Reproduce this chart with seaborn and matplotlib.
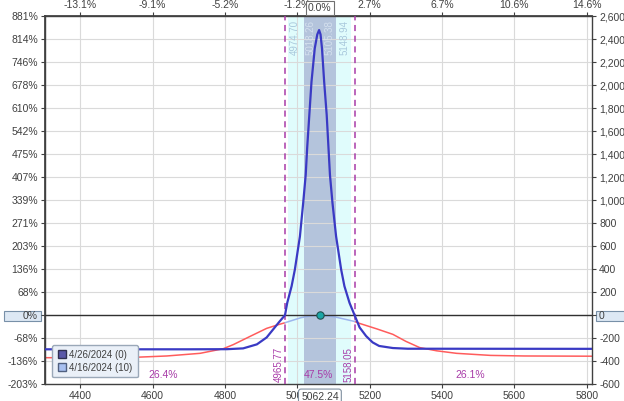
import matplotlib
matplotlib.use("Agg")
import matplotlib.pyplot as plt
from matplotlib.lines import Line2D
from matplotlib.patches import Rectangle
import numpy as np
import seaborn as sns

# values
price = 5062.24
breakevens = [4965.77, 5158.05]
outer_band = [4974.70, 5148.94]
inner_band = [5018.26, 5105.38]
zone_pcts = ["26.4%", "47.5%", "26.1%"]
zone_x = [4629, 5057, 5477]

x_ticks = [4400, 4600, 4800, 5000, 5200, 5400, 5600, 5800]
top_labels = ["-13.1%", "-9.1%", "-5.2%", "-1.2%", "2.7%", "6.7%", "10.6%", "14.6%"]
y_ticks = list(range(-600, 2601, 200))
left_labels = ["-203%", "-136%", "-68%", "0%", "68%", "136%", "203%", "271%", "339%",
               "407%", "475%", "542%", "610%", "678%", "746%", "814%", "881%"]

# expiration curve 4/26/2024
exp_x = [4303, 4700, 4805, 4850, 4888, 4915, 4933, 4950, 4965.77, 4972, 4984, 4993,
         5007, 5016, 5023, 5027, 5033, 5039, 5048, 5055, 5060, 5064, 5068, 5074,
         5081, 5086, 5090, 5097, 5107, 5121, 5130, 5144, 5158.05, 5172, 5190, 5208,
         5226, 5264, 5305, 5815]
exp_y = [-297, -297, -296, -289, -254, -194, -124, -58, 0, 108, 252, 396,
         685, 975, 1220, 1452, 1741, 2029, 2319, 2440, 2478, 2440, 2319, 2029,
         1741, 1452, 1220, 975, 685, 396, 252, 108, 0, -107, -182, -237,
         -268, -286, -292, -293]

# T+10 curve 4/16/2024
now_x = [4303, 4455, 4547, 4639, 4731, 4795, 4823, 4869, 4915, 4945, 4965.77,
         5010, 5035, 5060, 5085, 5110, 5158.05, 5172, 5220, 5264, 5300, 5338,
         5385, 5440, 5534, 5627, 5815]
now_y = [-370, -370, -367, -355, -332, -292, -256, -185, -115, -85, -66,
         -22, -8, -2, -8, -20, -55, -72, -120, -167, -228, -282,
         -310, -332, -350, -355, -357]

sns.set_theme(style="whitegrid")
plt.rcParams['font.family'] = ['Liberation Sans', 'DejaVu Sans']

fig = plt.figure(figsize=(6.24, 4.01), dpi=100)
ax = fig.add_axes([0.072, 0.042, 0.877, 0.918])

blue = "#3a3ac4"
red = "#ff5c5c"
magenta = "#a83ca8"

ax.axvspan(*outer_band, color="#e0fcfc", zorder=0.2, lw=0)
ax.axvspan(*inner_band, color="#b4c4dc", zorder=0.25, lw=0)

now_x = np.array(now_x)
now_y = np.array(now_y)
left = now_x <= breakevens[0]
right = now_x >= breakevens[1]
mid = ~left & ~right | (now_x == breakevens[0]) | (now_x == breakevens[1])
sns.lineplot(x=now_x[left], y=now_y[left], ax=ax, color=red, lw=1.1, estimator=None, sort=False)
sns.lineplot(x=now_x[right], y=now_y[right], ax=ax, color=red, lw=1.1, estimator=None, sort=False)
sns.lineplot(x=now_x[mid], y=now_y[mid], ax=ax, color="#9cb6ee", lw=1.1, estimator=None, sort=False)
sns.lineplot(x=exp_x, y=exp_y, ax=ax, color=blue, lw=1.6, estimator=None, sort=False, zorder=4)

ax.axhline(0, color="#303030", lw=1, zorder=3)
for be in breakevens:
    ax.axvline(be, color=magenta, ls=(0, (4, 3)), lw=1.1, zorder=3)

ax.scatter([price], [0], s=28, color="#1aa6a6", edgecolor="#1f4f4f", lw=0.8, zorder=6)

# band labels at the top
for xv, ha, col in [(outer_band[0], "left", "#a8c8dc"), (inner_band[0], "left", "#d4e0ee"),
                    (inner_band[1], "right", "#d4e0ee"), (outer_band[1], "right", "#a8c8dc")]:
    dx = 1 if ha == "left" else -1
    ax.annotate(f"{xv:.2f}", xy=(xv, 0.99), xycoords=ax.get_xaxis_transform(),
                xytext=(dx, 0), textcoords="offset points", rotation=90,
                ha=ha, va="top", fontsize=7, color=col)

for xv in breakevens:
    ax.annotate(f"{xv:.2f}", xy=(xv, 0.005), xycoords=ax.get_xaxis_transform(),
                xytext=(-1, 0), textcoords="offset points", rotation=90,
                ha="right", va="bottom", fontsize=7, color=magenta)

for xv, t in zip(zone_x, zone_pcts):
    ax.text(xv, 0.025, t, transform=ax.get_xaxis_transform(), ha="center",
            va="center", fontsize=7.5, color=magenta)

ax.set_xlim(4302, 5815)
ax.set_ylim(-600, 2600)
ax.set_xticks(x_ticks)
ax.set_yticks(y_ticks)
ax.set_yticklabels([f"{v:,}" for v in y_ticks])
ax.yaxis.tick_right()
ax.set_xlabel("")
ax.set_ylabel("")
ax.grid(True, color="#dadada", lw=0.8)
ax.tick_params(axis="both", labelsize=7.5, labelcolor="#404040", colors="#404040",
               length=3, width=0.8, pad=2)
ax.tick_params(axis="x", bottom=True)
ax.tick_params(axis="y", right=True)
for s in ax.spines.values():
    s.set_color("#404040")
    s.set_linewidth(1)

sec_y = ax.secondary_yaxis("left")
sec_y.set_yticks(y_ticks, labels=left_labels)
sec_y.tick_params(labelsize=7.5, labelcolor="#404040", colors="#404040", length=3, width=0.8, pad=2)
sec_y.spines["left"].set_color("#404040")

sec_x = ax.secondary_xaxis("top")
sec_x.set_xticks(x_ticks, labels=top_labels)
sec_x.tick_params(labelsize=7.5, labelcolor="#404040", colors="#404040", length=3, width=0.8, pad=1)
sec_x.spines["top"].set_color("#404040")

# boxed markers of the current price
ax.annotate("0.0%", xy=(price, 1), xycoords=ax.get_xaxis_transform(), xytext=(0, 6),
            textcoords="offset points", ha="center", va="center", fontsize=7.5, color="#404040",
            bbox=dict(boxstyle="square,pad=0.2", fc="white", ec="#707070", lw=0.8),
            annotation_clip=False, zorder=10)
ax.annotate("5062.24", xy=(price, 0), xycoords=ax.get_xaxis_transform(), xytext=(0, -9),
            textcoords="offset points", ha="center", va="center", fontsize=7.5, color="#404040",
            bbox=dict(boxstyle="round,pad=0.25", fc="white", ec="#8090a0", lw=0.8),
            annotation_clip=False, zorder=10)

fig.add_artist(Rectangle((4 / 624, 1 - 321 / 401), 37 / 624, 10 / 401, transform=fig.transFigure,
                         fc="#dde8f4", ec="#7890a8", lw=0.8, zorder=-1))
fig.add_artist(Rectangle((596 / 624, 1 - 321 / 401), 30 / 624, 10 / 401, transform=fig.transFigure,
                         fc="#dde8f4", ec="#7890a8", lw=0.8, zorder=-1))

handles = [Line2D([], [], marker="s", ls="", ms=6, mfc="#5a58a8", mec="#303050"),
           Line2D([], [], marker="s", ls="", ms=6, mfc="#a8c0f0", mec="#506080")]
leg = ax.legend(handles, ["4/26/2024 (0)", "4/16/2024 (10)"], loc="lower left",
                bbox_to_anchor=(0.004, 0.005), fontsize=7, frameon=True, fancybox=True,
                handletextpad=0.3, borderpad=0.5, labelspacing=0.3, handlelength=1)
leg.get_frame().set_facecolor("#eaf0f8")
leg.get_frame().set_edgecolor("#9aa8b8")
leg.get_frame().set_alpha(1)
for t in leg.get_texts():
    t.set_color("#404040")
leg.set_zorder(8)

fig.savefig("out.png", dpi=100)
